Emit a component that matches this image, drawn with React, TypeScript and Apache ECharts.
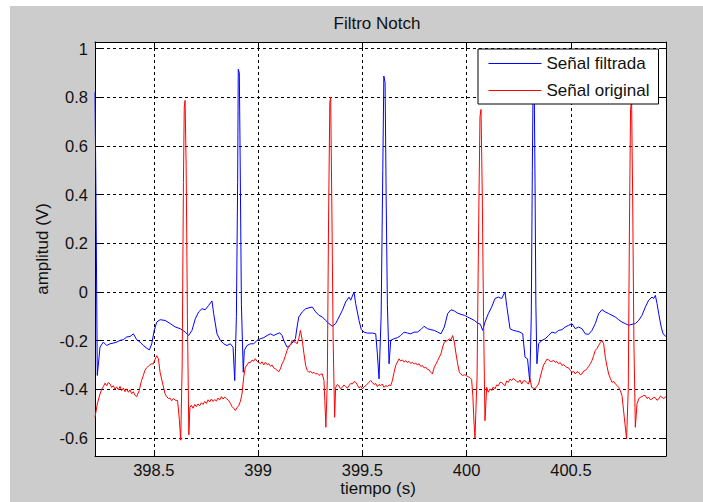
import React, { useEffect, useRef } from "react";
import * as echarts from "echarts";

// ---- Data ----
const chartTitle = "Filtro Notch";
const xAxisTitle = "tiempo (s)";
const yAxisTitle = "amplitud (V)";
const seriesNames = ["Señal filtrada", "Señal original"];

const xTicks = [398.5, 399, 399.5, 400, 400.5];
const yTicks = [-0.6, -0.4, -0.2, 0, 0.2, 0.4, 0.6, 0.8, 1];
const xRange = [398.218, 400.956];
const yRange = [-0.674, 1.027];

// Señal filtrada (blue)
const filteredTime = [
  398.218, 398.222, 398.229, 398.242, 398.258, 398.274, 398.29, 398.306, 398.322, 398.338,
  398.354, 398.37, 398.386, 398.402, 398.418, 398.434, 398.45, 398.466, 398.479, 398.49,
  398.502, 398.514, 398.53, 398.554, 398.579, 398.603, 398.627, 398.651, 398.667, 398.683,
  398.699, 398.715, 398.731, 398.747, 398.763, 398.779, 398.787, 398.803, 398.819, 398.835,
  398.851, 398.867, 398.88, 398.888, 398.896, 398.902, 398.905, 398.91, 398.914, 398.92,
  398.929, 398.934, 398.947, 398.963, 398.979, 398.995, 399.011, 399.027, 399.043, 399.059,
  399.075, 399.091, 399.104, 399.115, 399.123, 399.139, 399.152, 399.163, 399.179, 399.187,
  399.195, 399.212, 399.228, 399.244, 399.26, 399.276, 399.292, 399.308, 399.324, 399.34,
  399.356, 399.372, 399.388, 399.404, 399.42, 399.436, 399.444, 399.46, 399.468, 399.484,
  399.495, 399.508, 399.524, 399.548, 399.564, 399.572, 399.58, 399.59, 399.598, 399.603,
  399.609, 399.614, 399.62, 399.628, 399.636, 399.652, 399.668, 399.684, 399.7, 399.716,
  399.732, 399.748, 399.764, 399.78, 399.796, 399.812, 399.829, 399.845, 399.861, 399.877,
  399.893, 399.909, 399.925, 399.941, 399.957, 399.973, 399.989, 400.005, 400.021, 400.037,
  400.053, 400.066, 400.077, 400.088, 400.104, 400.12, 400.136, 400.152, 400.168, 400.184,
  400.192, 400.2, 400.208, 400.224, 400.24, 400.256, 400.269, 400.28, 400.292, 400.303,
  400.31, 400.315, 400.319, 400.324, 400.328, 400.332, 400.337, 400.345, 400.361, 400.377,
  400.393, 400.409, 400.425, 400.441, 400.457, 400.473, 400.489, 400.505, 400.521, 400.537,
  400.553, 400.569, 400.585, 400.601, 400.617, 400.633, 400.649, 400.665, 400.681, 400.697,
  400.713, 400.729, 400.745, 400.761, 400.777, 400.793, 400.809, 400.825, 400.841, 400.857,
  400.873, 400.889, 400.897, 400.905, 400.913, 400.921, 400.933, 400.942, 400.956,
];
const filteredAmp = [
  0.82, 0.46, -0.343, -0.227, -0.206, -0.22, -0.213, -0.21, -0.206, -0.199,
  -0.196, -0.185, -0.183, -0.172, -0.196, -0.206, -0.22, -0.231, -0.238, -0.213,
  -0.158, -0.124, -0.114, -0.117, -0.13, -0.144, -0.151, -0.165, -0.179, -0.158,
  -0.11, -0.082, -0.069, -0.073, -0.055, -0.037, -0.089, -0.172, -0.199, -0.213,
  -0.22, -0.213, -0.227, -0.364, -0.1, 0.45, 0.915, 0.9, 0.55, -0.05,
  -0.33, -0.24, -0.22, -0.213, -0.213, -0.199, -0.192, -0.188, -0.179, -0.172,
  -0.179, -0.172, -0.168, -0.179, -0.199, -0.227, -0.22, -0.21, -0.192, -0.144,
  -0.103, -0.082, -0.069, -0.065, -0.062, -0.082, -0.096, -0.103, -0.117, -0.13,
  -0.141, -0.13, -0.103, -0.076, -0.041, -0.021, -0.034, 0.0, -0.048, -0.117,
  -0.155, -0.165, -0.169, -0.169, -0.172, -0.254, -0.357, -0.1, 0.5, 0.887,
  0.86, 0.4, -0.05, -0.295, -0.199, -0.192, -0.188, -0.179, -0.165, -0.169,
  -0.172, -0.165, -0.165, -0.155, -0.141, -0.151, -0.155, -0.158, -0.165, -0.172,
  -0.144, -0.089, -0.073, -0.078, -0.087, -0.092, -0.096, -0.103, -0.11, -0.117,
  -0.128, -0.133, -0.158, -0.124, -0.089, -0.062, -0.027, -0.021, -0.027, 0.0,
  -0.055, -0.103, -0.151, -0.158, -0.161, -0.165, -0.172, -0.268, -0.275, -0.37,
  -0.1, 0.5, 0.88, 0.86, 0.45, -0.05, -0.295, -0.213, -0.199, -0.192,
  -0.179, -0.165, -0.169, -0.158, -0.155, -0.144, -0.137, -0.13, -0.151, -0.144,
  -0.151, -0.172, -0.174, -0.158, -0.13, -0.089, -0.073, -0.082, -0.089, -0.096,
  -0.103, -0.114, -0.124, -0.13, -0.137, -0.133, -0.13, -0.117, -0.096, -0.062,
  -0.034, -0.021, -0.027, -0.014, -0.048, -0.089, -0.144, -0.172, -0.183,
];

// Señal original (red)
const originalTime = [
  398.218, 398.229, 398.242, 398.25, 398.258, 398.266, 398.274, 398.282, 398.29, 398.298,
  398.306, 398.314, 398.322, 398.33, 398.338, 398.346, 398.354, 398.362, 398.37, 398.378,
  398.386, 398.394, 398.402, 398.41, 398.418, 398.43, 398.441, 398.449, 398.457, 398.465,
  398.473, 398.481, 398.489, 398.497, 398.505, 398.514, 398.522, 398.53, 398.543, 398.554,
  398.562, 398.57, 398.578, 398.586, 398.594, 398.603, 398.614, 398.623, 398.629, 398.636,
  398.642, 398.646, 398.65, 398.655, 398.661, 398.668, 398.673, 398.68, 398.688, 398.696,
  398.704, 398.712, 398.72, 398.728, 398.736, 398.744, 398.752, 398.76, 398.768, 398.776,
  398.784, 398.792, 398.8, 398.808, 398.816, 398.824, 398.832, 398.84, 398.848, 398.859,
  398.867, 398.875, 398.883, 398.891, 398.899, 398.907, 398.915, 398.923, 398.931, 398.939,
  398.947, 398.955, 398.963, 398.971, 398.979, 398.987, 398.995, 399.003, 399.011, 399.019,
  399.027, 399.035, 399.043, 399.051, 399.059, 399.067, 399.075, 399.083, 399.091, 399.099,
  399.107, 399.115, 399.123, 399.131, 399.139, 399.146, 399.152, 399.158, 399.163, 399.171,
  399.179, 399.187, 399.195, 399.203, 399.212, 399.22, 399.228, 399.236, 399.244, 399.252,
  399.26, 399.268, 399.276, 399.284, 399.292, 399.3, 399.308, 399.316, 399.32, 399.325,
  399.332, 399.338, 399.344, 399.348, 399.354, 399.36, 399.367, 399.372, 399.38, 399.387,
  399.395, 399.404, 399.412, 399.42, 399.428, 399.436, 399.444, 399.452, 399.46, 399.468,
  399.476, 399.484, 399.492, 399.5, 399.508, 399.516, 399.524, 399.532, 399.54, 399.548,
  399.556, 399.564, 399.572, 399.58, 399.588, 399.596, 399.604, 399.612, 399.62, 399.628,
  399.636, 399.644, 399.652, 399.66, 399.668, 399.676, 399.684, 399.692, 399.7, 399.708,
  399.716, 399.724, 399.732, 399.74, 399.748, 399.756, 399.764, 399.772, 399.78, 399.788,
  399.796, 399.804, 399.812, 399.82, 399.828, 399.836, 399.845, 399.853, 399.861, 399.869,
  399.877, 399.885, 399.893, 399.901, 399.909, 399.917, 399.925, 399.933, 399.941, 399.949,
  399.957, 399.965, 399.973, 399.981, 399.989, 399.997, 400.005, 400.013, 400.024, 400.03,
  400.035, 400.04, 400.05, 400.058, 400.064, 400.069, 400.075, 400.081, 400.088, 400.096,
  400.104, 400.112, 400.12, 400.128, 400.136, 400.144, 400.152, 400.16, 400.168, 400.176,
  400.184, 400.192, 400.2, 400.208, 400.216, 400.224, 400.232, 400.24, 400.248, 400.256,
  400.264, 400.272, 400.28, 400.288, 400.296, 400.304, 400.312, 400.32, 400.328, 400.336,
  400.345, 400.353, 400.361, 400.369, 400.377, 400.385, 400.393, 400.401, 400.409, 400.417,
  400.425, 400.433, 400.441, 400.449, 400.457, 400.465, 400.473, 400.481, 400.489, 400.497,
  400.505, 400.513, 400.521, 400.529, 400.537, 400.545, 400.553, 400.561, 400.569, 400.577,
  400.585, 400.593, 400.601, 400.609, 400.617, 400.625, 400.633, 400.641, 400.649, 400.657,
  400.665, 400.673, 400.681, 400.689, 400.697, 400.705, 400.713, 400.721, 400.729, 400.737,
  400.745, 400.756, 400.767, 400.775, 400.781, 400.786, 400.791, 400.796, 400.802, 400.809,
  400.817, 400.825, 400.833, 400.841, 400.849, 400.857, 400.865, 400.873, 400.881, 400.889,
  400.897, 400.905, 400.913, 400.921, 400.929, 400.937, 400.945, 400.956,
];
const originalAmp = [
  -0.515, -0.46, -0.419, -0.4, -0.389, -0.375, -0.385, -0.372, -0.378, -0.392,
  -0.385, -0.4, -0.39, -0.402, -0.388, -0.405, -0.395, -0.41, -0.398, -0.412,
  -0.402, -0.418, -0.41, -0.425, -0.43, -0.405, -0.364, -0.345, -0.323, -0.312,
  -0.306, -0.3, -0.295, -0.296, -0.279, -0.262, -0.275, -0.33, -0.378, -0.419,
  -0.43, -0.438, -0.436, -0.447, -0.438, -0.445, -0.446, -0.529, -0.609, -0.3,
  0.45, 0.76, 0.787, 0.52, -0.1, -0.587, -0.474, -0.465, -0.478, -0.462,
  -0.471, -0.46, -0.468, -0.455, -0.462, -0.45, -0.458, -0.443, -0.452, -0.44,
  -0.45, -0.442, -0.448, -0.436, -0.444, -0.43, -0.44, -0.432, -0.438, -0.446,
  -0.458, -0.471, -0.478, -0.487, -0.476, -0.467, -0.45, -0.419, -0.35, -0.309,
  -0.3, -0.289, -0.29, -0.28, -0.284, -0.274, -0.285, -0.289, -0.295, -0.287,
  -0.3, -0.289, -0.298, -0.295, -0.305, -0.3, -0.312, -0.316, -0.322, -0.328,
  -0.316, -0.295, -0.282, -0.262, -0.24, -0.228, -0.22, -0.212, -0.199, -0.206,
  -0.205, -0.213, -0.192, -0.158, -0.199, -0.254, -0.302, -0.323, -0.33, -0.326,
  -0.334, -0.33, -0.337, -0.335, -0.343, -0.338, -0.337, -0.364, -0.446, -0.556,
  -0.364, 0.3, 0.78, 0.8, 0.32, -0.2, -0.515, -0.392, -0.38, -0.385,
  -0.398, -0.392, -0.382, -0.389, -0.395, -0.385, -0.376, -0.378, -0.368, -0.371,
  -0.382, -0.394, -0.388, -0.398, -0.39, -0.385, -0.378, -0.371, -0.364, -0.372,
  -0.38, -0.376, -0.389, -0.38, -0.385, -0.378, -0.392, -0.384, -0.389, -0.382,
  -0.385, -0.364, -0.33, -0.302, -0.288, -0.275, -0.284, -0.279, -0.288, -0.282,
  -0.29, -0.285, -0.294, -0.289, -0.296, -0.292, -0.3, -0.295, -0.306, -0.302,
  -0.312, -0.309, -0.318, -0.32, -0.33, -0.337, -0.309, -0.296, -0.282, -0.268,
  -0.254, -0.226, -0.206, -0.202, -0.199, -0.193, -0.196, -0.179, -0.206, -0.254,
  -0.295, -0.33, -0.338, -0.343, -0.34, -0.343, -0.348, -0.35, -0.36, -0.43,
  -0.53, -0.6, -0.35, 0.3, 0.72, 0.75, 0.4, -0.1, -0.529, -0.392,
  -0.412, -0.398, -0.405, -0.39, -0.398, -0.382, -0.385, -0.372, -0.371, -0.38,
  -0.385, -0.366, -0.371, -0.358, -0.364, -0.355, -0.361, -0.368, -0.371, -0.362,
  -0.378, -0.366, -0.364, -0.372, -0.378, -0.357, -0.392, -0.395, -0.398, -0.388,
  -0.378, -0.35, -0.323, -0.3, -0.289, -0.276, -0.279, -0.285, -0.285, -0.281,
  -0.289, -0.286, -0.295, -0.29, -0.302, -0.298, -0.306, -0.31, -0.312, -0.322,
  -0.33, -0.326, -0.337, -0.328, -0.33, -0.34, -0.337, -0.325, -0.323, -0.315,
  -0.306, -0.295, -0.282, -0.262, -0.24, -0.232, -0.22, -0.208, -0.199, -0.213,
  -0.268, -0.305, -0.337, -0.355, -0.371, -0.368, -0.378, -0.384, -0.392, -0.405,
  -0.426, -0.515, -0.604, -0.4, 0.3, 0.75, 0.79, 0.4, -0.2, -0.556,
  -0.46, -0.44, -0.432, -0.43, -0.425, -0.426, -0.438, -0.433, -0.442, -0.44,
  -0.432, -0.435, -0.445, -0.44, -0.428, -0.433, -0.438, -0.43,
];

const FONT = '"Liberation Sans", Arial, Helvetica, sans-serif';
const TEXT = "#111111";

export default function App() {
  const ref = useRef<HTMLDivElement>(null);

  useEffect(() => {
    if (!ref.current) return;
    const chart = echarts.init(ref.current, null, { renderer: "svg" });

    const filteredData = filteredTime.map((t, i) => [t, filteredAmp[i]]);
    const originalData = originalTime.map((t, i) => [t, originalAmp[i]]);

    const axisLine = { show: true, onZero: false, lineStyle: { color: "#000", width: 1 } };
    const tickStyle = { lineStyle: { color: "#000", width: 1 } };
    const gridLine = { show: true, lineStyle: { color: "#000", width: 1, type: [3, 3] as any } };

    chart.setOption({
      animation: false,
      backgroundColor: "#cccccc",
      grid: {
        left: 85,
        top: 36,
        right: 37,
        bottom: 46,
        show: true,
        backgroundColor: "#ffffff",
        borderWidth: 0,
      },
      legend: {
        data: seriesNames,
        orient: "vertical",
        left: 468,
        top: 43,
        padding: [6, 9, 5, 10],
        itemWidth: 53,
        itemHeight: 14,
        itemGap: 10,
        backgroundColor: "#ffffff",
        borderColor: "#000",
        borderWidth: 1,
        borderRadius: 0,
        itemStyle: { opacity: 0 },
        lineStyle: { width: 1 },
        textStyle: { fontFamily: FONT, fontSize: 17, color: TEXT },
        z: 10,
      },
      xAxis: [
        {
          type: "value",
          position: "bottom",
          min: xRange[0],
          max: xRange[1],
          axisLine,
          axisTick: { show: true, inside: true, length: 6, customValues: xTicks, ...tickStyle },
          axisLabel: {
            customValues: xTicks,
            margin: 5,
            fontFamily: FONT,
            fontSize: 16.5,
            color: TEXT,
            formatter: (v: number) => String(v),
          },
          splitLine: gridLine,
        },
        {
          type: "value",
          position: "top",
          min: xRange[0],
          max: xRange[1],
          axisLine,
          axisTick: { show: true, inside: true, length: 6, customValues: xTicks, ...tickStyle },
          axisLabel: { show: false },
          splitLine: { show: false },
        },
      ],
      yAxis: [
        {
          type: "value",
          position: "left",
          min: yRange[0],
          max: yRange[1],
          axisLine,
          axisTick: { show: true, inside: true, length: 6, customValues: yTicks, ...tickStyle },
          axisLabel: {
            customValues: yTicks,
            margin: 7,
            fontFamily: FONT,
            fontSize: 16.5,
            color: TEXT,
            formatter: (v: number) => String(v),
          },
          splitLine: gridLine,
        },
        {
          type: "value",
          position: "right",
          min: yRange[0],
          max: yRange[1],
          axisLine,
          axisTick: { show: true, inside: true, length: 6, customValues: yTicks, ...tickStyle },
          axisLabel: { show: false },
          splitLine: { show: false },
        },
      ],
      series: [
        {
          name: seriesNames[0],
          type: "line",
          xAxisIndex: 0,
          yAxisIndex: 0,
          data: filteredData,
          symbol: "none",
          lineStyle: { color: "#0000ff", width: 1 },
          itemStyle: { color: "#0000ff" },
          z: 2,
        },
        {
          name: seriesNames[1],
          type: "line",
          xAxisIndex: 0,
          yAxisIndex: 0,
          data: originalData,
          symbol: "none",
          lineStyle: { color: "#ff0000", width: 1 },
          itemStyle: { color: "#ff0000" },
          z: 3,
        },
      ],
      graphic: [
        {
          type: "text",
          x: 367,
          y: 17,
          style: {
            text: chartTitle,
            font: `17px ${FONT}`,
            fill: TEXT,
            align: "center",
            verticalAlign: "middle",
          },
        },
        {
          type: "text",
          x: 368,
          y: 482,
          style: {
            text: xAxisTitle,
            font: `17px ${FONT}`,
            fill: TEXT,
            align: "center",
            verticalAlign: "middle",
          },
        },
        {
          type: "text",
          x: 32,
          y: 243,
          rotation: Math.PI / 2,
          style: {
            text: yAxisTitle,
            font: `17px ${FONT}`,
            fill: TEXT,
            align: "center",
            verticalAlign: "middle",
          },
        },
      ],
    });

    return () => chart.dispose();
  }, []);

  return (
    <div style={{ position: "absolute", left: 0, top: 0, width: 703, height: 502, background: "#ffffff" }}>
      <div
        ref={ref}
        style={{ position: "absolute", left: 10, top: 6, width: 693, height: 496, background: "#cccccc" }}
      />
    </div>
  );
}
